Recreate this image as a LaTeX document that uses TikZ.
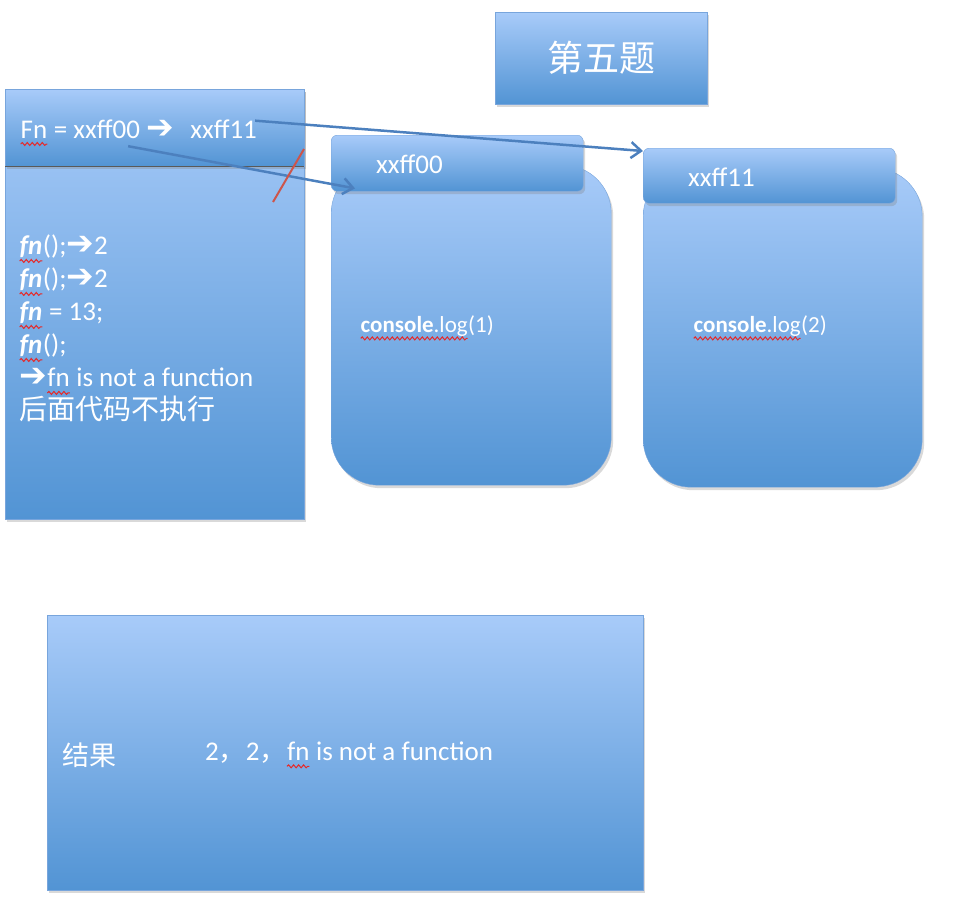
\documentclass[tikz,border=0pt]{standalone}
\usepackage{fontspec}
\setmainfont{Carlito}
\newfontfamily\cjk{Noto Sans CJK SC}
\newfontfamily\dingfont{DejaVu Sans}
\usetikzlibrary{arrows.meta, positioning, shadows, decorations.pathmorphing}
\definecolor{paneltop}{RGB}{168,203,249}
\definecolor{panelbottom}{RGB}{82,148,212}
\definecolor{paneledge}{RGB}{120,165,220}
\definecolor{linkblue}{RGB}{76,128,190}
\definecolor{slashred}{RGB}{205,85,75}
\definecolor{spellred}{RGB}{230,40,40}

% red squiggle under a word
\newcommand{\spell}[1]{\tikz[baseline=(sp.base)]{%
    \node[inner sep=0pt, outer sep=0pt, anchor=base, font={}] (sp) at (0,0) {#1};
    \draw[spellred, line width=1pt, decorate, decoration={snake, segment length=5pt, amplitude=1.5pt}]
        ([yshift=-6pt]sp.base west) -- ([yshift=-6pt]sp.base east);}}
\newcommand{\heavyto}{{\dingfont\bfseries\fontsize{33}{33}\selectfont ➔}}

\begin{document}
\begin{tikzpicture}[
    x=1pt, y=-1pt,
    panel/.style={rectangle, draw=paneledge, top color=paneltop, bottom color=panelbottom, inner sep=0pt, anchor=north west,
        drop shadow={opacity=0.3, shadow xshift=2pt, shadow yshift=-3pt}},
    heap/.style={panel, rounded corners=48pt},
    tab/.style={panel, rounded corners=6pt},
    txt/.style={text=white, inner sep=0pt, font=\fontsize{27}{33}\selectfont},
    small/.style={txt, font=\fontsize{23}{28}\selectfont},
    link/.style={-{Straight Barb[length=10pt, width=16pt]}, line width=2.5pt, draw=linkblue},
    slash/.style={line width=2pt, draw=slashred}
]
\useasboundingbox (0,0) rectangle (976,908);

% Title
\node[panel, minimum width=212pt, minimum height=92pt, text=white, font=\cjk\fontsize{36}{40}\selectfont] (title) at (495,12) {第五题};

% Stack
\node[panel, minimum width=299pt, minimum height=430pt] (stack) at (5,89) {};
\node[panel, minimum width=299pt, minimum height=77pt] (fnrow) at (5,89) {};
\draw[gray!70!black, line width=1.5pt] (fnrow.south west) -- (fnrow.south east);
\node[txt, anchor=base west] (fnold) at (20,138) {\spell{Fn} = xxff00};
\node[txt, right=6pt of fnold.base east, anchor=base west] (fnarrow) {\heavyto};
\node[txt, right=16pt of fnarrow.base east, anchor=base west] (fnnew) {xxff11};

\node[txt, anchor=north west, align=left] (code) at (19,235) {%
    \textbf{\textit{\spell{fn}}}();\heavyto2\\
    \textbf{\textit{\spell{fn}}}();\heavyto2\\
    \textbf{\textit{\spell{fn}}} = 13;\\
    \textbf{\textit{\spell{fn}}}();\\
    \heavyto\spell{fn} is not a function\\
    {\cjk\fontsize{28}{33}\selectfont 后面代码不执行}};

% Heap xxff00
\node[heap, minimum width=280pt, minimum height=320pt] (heap00) at (331,165) {};
\node[tab, minimum width=252pt, minimum height=56pt] (tab00) at (331,135) {};
\node[txt, anchor=west] (addr00) at (376,164) {xxff00};
\node[small, anchor=west] (log1) at (360,328) {\spell{\textbf{console}.log}(1)};

% Heap xxff11
\node[heap, minimum width=279pt, minimum height=319pt] (heap11) at (643,168) {};
\node[tab, minimum width=252pt, minimum height=55pt] (tab11) at (643,148) {};
\node[txt, anchor=west] (addr11) at (688,177) {xxff11};
\node[small, anchor=west] (log2) at (693,328) {\spell{\textbf{console}.log}(2)};

% Result
\node[panel, minimum width=596pt, minimum height=275pt] (result) at (47,615) {};
\node[txt, anchor=west, font=\cjk\fontsize{27}{33}\selectfont] (resultlabel) at (62,755) {结果};
\node[txt, anchor=west] (resultvalue) at (205,755) {2{\cjk ，}2{\cjk ，}\spell{fn} is not a function};

% Pointers
\draw[link] ([xshift=-2pt, yshift=8pt]fnnew.east) -- ([yshift=-3pt]tab11.north west);
\draw[link] ([xshift=-12pt]fnold.south east) -- ([xshift=24pt, yshift=3pt]tab00.south west);
\coordinate (cutA) at (304,149);
\coordinate (cutB) at (273,202);
\draw[slash] (cutA) -- (cutB);

\end{tikzpicture}
\end{document}
